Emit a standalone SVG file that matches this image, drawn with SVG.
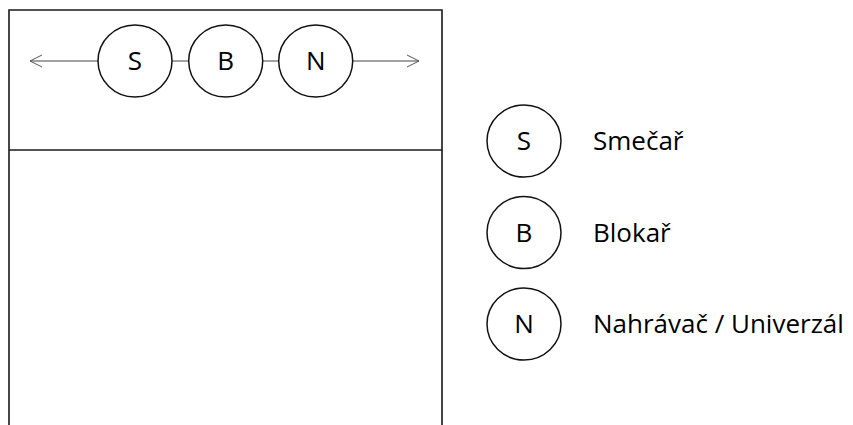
<svg xmlns="http://www.w3.org/2000/svg" width="853" height="425" viewBox="0 0 853 425">
<style>
.court{fill:none;stroke:#1a1a1a;stroke-width:1.6}
.node ellipse{fill:#fff;stroke:#111;stroke-width:1.5}
.lbl{font-family:"Open Sans","Liberation Sans",Arial,sans-serif;font-size:26px;fill:#000}
.c{text-anchor:middle}
.conn{stroke:#444;stroke-width:1;fill:none}
</style>
<defs>
<marker id="arr" viewBox="0 0 14 14" refX="13" refY="7" markerWidth="14" markerHeight="14" markerUnits="userSpaceOnUse" orient="auto">
<path d="M1,1 L13,7 L1,13" fill="none" stroke="#555" stroke-width="1"/>
</marker>
</defs>
<rect width="853" height="425" fill="#fff"/>
<g id="court">
<path class="court" d="M9,425 V10 H442 V425"/>
<line class="court" x1="9" y1="150" x2="442" y2="150"/>
</g>
<g id="connectors">
<line class="conn" x1="98" y1="61" x2="30" y2="61" marker-end="url(#arr)"/>
<line class="conn" x1="172" y1="61" x2="189" y2="61"/>
<line class="conn" x1="262" y1="61" x2="279" y2="61"/>
<line class="conn" x1="352" y1="61" x2="419" y2="61" marker-end="url(#arr)"/>
</g>
<g id="node-S" class="node"><ellipse cx="135" cy="61" rx="37" ry="36"/><text class="lbl c" x="135" y="70">S</text></g>
<g id="node-B" class="node"><ellipse cx="225.7" cy="61" rx="37" ry="36"/><text class="lbl c" x="225.7" y="70">B</text></g>
<g id="node-N" class="node"><ellipse cx="315.7" cy="61" rx="37" ry="36"/><text class="lbl c" x="315.7" y="70">N</text></g>
<g id="legend-S" class="node"><ellipse cx="524" cy="141" rx="37" ry="36"/><text class="lbl c" x="524" y="150">S</text><text class="lbl" x="593" y="150">Smečař</text></g>
<g id="legend-B" class="node"><ellipse cx="524" cy="232.5" rx="37" ry="36"/><text class="lbl c" x="524" y="242">B</text><text class="lbl" x="593" y="242">Blokař</text></g>
<g id="legend-N" class="node"><ellipse cx="524" cy="324" rx="37" ry="36"/><text class="lbl c" x="524" y="333">N</text><text class="lbl" x="593" y="333">Nahrávač / Univerzál</text></g>
</svg>
